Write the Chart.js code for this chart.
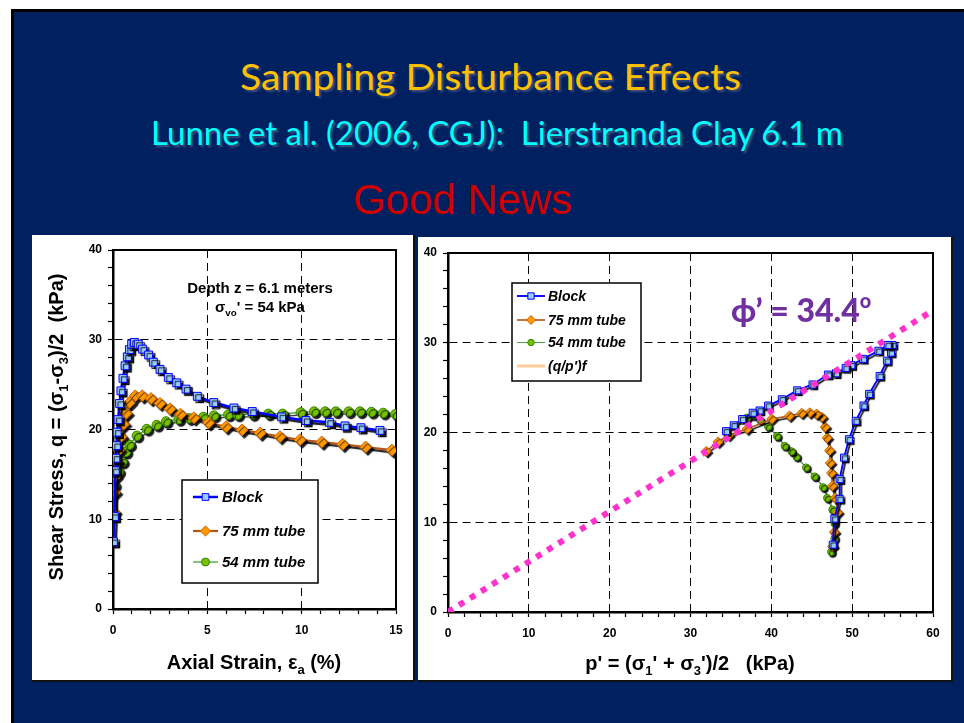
<!DOCTYPE html>
<html>
<head>
<meta charset="utf-8">
<script src="https://cdn.jsdelivr.net/npm/chart.js@4.4.1/dist/chart.umd.min.js"></script>
<style>
  html, body { margin: 0; padding: 0; background: #fff; }
  body { width: 964px; height: 723px; position: relative; overflow: hidden; }
  #slide { position: absolute; left: 11px; top: 9px; width: 1000px; height: 800px;
           box-sizing: border-box; background: #002060; border: 3px solid #000; }
  .ttl { position: absolute; white-space: nowrap; transform-origin: 0 0; line-height: 1; }
  #t1 { left: 240px; top: 54px; font: 36px Lato, "Open Sans", sans-serif; color: #FFC000;
        text-shadow: 2px 2px 2px rgba(110, 120, 150, 0.55); }
  #t2 { left: 151px; top: 113px; font: 32px Lato, "Open Sans", sans-serif; color: #00FFFF;
        text-shadow: 2px 2px 2px rgba(110, 120, 150, 0.6); }
  #t3 { left: 353px; top: 176px; font: 42px "Liberation Sans", Arial, sans-serif; color: #CC0000; }
  .panel { position: absolute; background: #fff; border-right: 2px solid #111; border-bottom: 2px solid #111; }
  #p1 { left: 32px; top: 235px; width: 381px; height: 445px; }
  #p2 { left: 418px; top: 237px; width: 533px; height: 443px; }
</style>
</head>
<body>
<div id="slide"></div>
<div class="ttl" id="t1" data-w="501">Sampling Disturbance Effects</div>
<div class="ttl" id="t2" data-w="692">Lunne et al. (2006, CGJ):&nbsp; Lierstranda Clay 6.1 m</div>
<div class="ttl" id="t3" data-w="219">Good News</div>
<div class="panel" id="p1"><canvas id="c1"></canvas></div>
<div class="panel" id="p2"><canvas id="c2"></canvas></div>
<script>
// ---- stress-strain curves: axial strain (%) vs q (kPa)
const blockStrain = [0.02, 0.07, 0.12, 0.15, 0.18, 0.22, 0.27, 0.35, 0.42, 0.53, 0.64, 0.76, 0.87, 0.99, 1.13, 1.34, 1.57, 1.89, 2.14, 2.49, 2.93, 3.38, 3.87, 4.47, 5.34, 6.41, 7.38, 8.94, 10.23, 11.47, 12.3, 13.14, 14.15];
const blockQ      = [7.5, 10.3, 15.4, 16.8, 18.2, 19.7, 21.1, 22.9, 24.3, 25.7, 27.1, 28.1, 28.9, 29.5, 29.7, 29.5, 28.95, 28.3, 27.5, 26.7, 25.8, 25.2, 24.5, 23.7, 23.0, 22.4, 22.0, 21.4, 21.0, 20.8, 20.4, 20.2, 19.9];

const tube75Strain = [0.05, 0.08, 0.12, 0.21, 0.3, 0.42, 0.56, 0.7, 0.88, 1.18, 1.55, 2.01, 2.49, 3.02, 3.58, 4.29, 5.07, 5.99, 6.84, 7.8, 8.85, 9.91, 11.06, 12.17, 13.39, 14.78];
const tube75Q      = [10.8, 13.0, 14.75, 16.4, 17.7, 19.2, 20.6, 21.8, 23.0, 23.75, 23.75, 23.45, 22.9, 22.3, 21.7, 21.3, 20.75, 20.3, 19.95, 19.6, 19.2, 18.85, 18.6, 18.35, 18.05, 17.7];

const tube54Strain = [0.02, 0.07, 0.29, 0.49, 0.68, 0.87, 1.26, 1.79, 2.32, 2.81, 3.48, 4.05, 4.79, 5.35, 6.11, 6.6, 7.4, 8.23, 8.99, 9.95, 10.66, 11.25, 11.81, 12.49, 13.09, 13.7, 14.32, 14.97];
const tube54Q      = [10.7, 13.8, 15.3, 16.4, 17.5, 18.3, 19.3, 20.05, 20.5, 20.9, 21.15, 21.25, 21.4, 21.55, 21.65, 21.65, 21.7, 21.75, 21.75, 21.9, 22.0, 22.0, 22.0, 22.0, 22.0, 21.95, 21.85, 21.7];

// ---- stress paths: p' (kPa) vs q (kPa)
const blockP  = [47.6, 47.8, 48.45, 48.45, 49.0, 49.6, 50.45, 51.4, 52.1, 53.4, 54.3, 54.8, 55.0, 54.4, 53.25, 51.35, 49.9, 49.2, 48.0, 47.0, 45.1, 43.2, 41.3, 39.6, 38.55, 37.7, 36.4, 35.35, 34.4];
const blockPQ = [7.5, 10.4, 12.6, 14.8, 17.2, 19.25, 21.3, 23.0, 24.3, 26.3, 28.0, 28.9, 29.75, 29.75, 29.1, 28.2, 27.5, 27.2, 26.6, 26.45, 25.35, 24.7, 23.7, 23.0, 22.45, 22.2, 21.5, 20.8, 20.15];

const tube75P  = [47.6, 47.8, 48.2, 47.9, 47.55, 47.45, 47.3, 47.2, 46.9, 46.65, 46.25, 45.6, 44.75, 43.75, 42.25, 40.05, 37.0, 34.7, 33.4, 31.95];
const tube75PQ = [7.3, 8.9, 11.1, 12.7, 14.05, 15.5, 16.6, 18.0, 19.4, 20.6, 21.7, 22.05, 22.2, 22.15, 21.85, 21.5, 20.4, 19.7, 18.95, 17.9];

const tube54P  = [47.4, 47.8, 47.8, 47.55, 46.9, 46.4, 45.35, 44.3, 43.1, 42.5, 41.65, 40.7, 39.6, 38.6, 37.7, 37.0];
const tube54PQ = [6.7, 8.2, 9.9, 11.4, 12.7, 13.9, 15.1, 16.1, 17.3, 17.9, 18.5, 19.6, 20.66, 21.4, 21.9, 21.66];

// failure envelope (q/p')f, phi' = 34.4 deg
const envelopeP = [0, 60];
const envelopeQ = [0, 33.6];

const FONT = '"Liberation Sans", Arial, sans-serif';
Chart.defaults.font.family = FONT;
Chart.defaults.color = '#000';

// squeeze the slide titles to their box widths
document.querySelectorAll('.ttl').forEach(el => {
  el.style.transform = 'scaleX(' + (el.dataset.w / el.getBoundingClientRect().width) + ')';
});

const pts = (xs, ys) => xs.map((x, i) => ({ x, y: ys[i] }));

const LOOK = {
  block:  { line: '#0000FF', lw: 2.5, fill: '#99CCFF', edge: '#0000FF', shape: 'rect',    r: 5.6, rs: 5 },
  tube75: { line: '#B4561A', lw: 2.2, fill: '#FF9900', edge: '#C86400', shape: 'rectRot', r: 6,   rs: 5 },
  tube54: { line: '#2E9E2E', lw: 1.2, fill: '#77C100', edge: '#338800', shape: 'circle',  r: 4.7, rs: 3.6 }
};

function series(label, data, kind, small) {
  const s = LOOK[kind];
  const r = small ? s.rs : s.r;
  return {
    label, data, showLine: true, tension: 0,
    borderColor: s.line, borderWidth: s.lw * (small ? 0.75 : 1),
    pointStyle: s.shape, pointRadius: r, pointHoverRadius: r,
    pointBackgroundColor: s.fill, pointBorderColor: s.edge, pointBorderWidth: 1,
    shadow: small ? 1.8 : 2.4
  };
}

function scaleOpts(max, step, major, fit, pad) {
  return {
    type: 'linear', min: 0, max,
    ticks: { stepSize: step, autoSkip: false, maxRotation: 0, padding: pad,
             font: { size: 12, weight: 'bold' }, color: '#000',
             callback: v => (v % major === 0 ? v : '') },
    grid: { color: c => (c.tick && c.tick.value % major === 0 && c.tick.value > 0 && c.tick.value < max) ? '#000' : 'rgba(0,0,0,0)',
            lineWidth: 1, tickLength: 5, tickColor: '#000', tickWidth: 1.2 },
    border: { color: '#000', width: 2.5, dash: [8, 5] },
    afterFit: fit
  };
}

function marker(ctx, shape, x, y, r, fill, edge) {
  ctx.beginPath();
  if (shape === 'rect') {
    const h = r * Math.SQRT1_2;
    ctx.rect(x - h, y - h, 2 * h, 2 * h);
  } else if (shape === 'rectRot') {
    ctx.moveTo(x - r, y); ctx.lineTo(x, y - r); ctx.lineTo(x + r, y); ctx.lineTo(x, y + r); ctx.closePath();
  } else {
    ctx.arc(x, y, r, 0, Math.PI * 2);
  }
  ctx.fillStyle = fill; ctx.fill();
  ctx.lineWidth = 1; ctx.strokeStyle = edge; ctx.stroke();
}

// text with sub/superscript runs: parts are strings or [text, 'sub'|'sup']
function rich(ctx, parts, x, y, size, o) {
  const fam = o.family || FONT, st = o.style || 'bold';
  let w = 0;
  const runs = parts.map(p => {
    const [t, kind] = Array.isArray(p) ? p : [p, null];
    const s = kind ? size * (o.subScale || 0.65) : size;
    ctx.font = st + ' ' + s + 'px ' + fam;
    const rw = ctx.measureText(t).width;
    w += rw;
    return { t, kind, s, rw };
  });
  ctx.save();
  ctx.translate(x, y);
  if (o.rotate) ctx.rotate(o.rotate);
  ctx.fillStyle = o.color || '#000';
  ctx.textBaseline = 'alphabetic';
  ctx.textAlign = 'left';
  let cx = o.align === 'left' ? 0 : -w / 2;
  const base = o.align === 'left' ? 0 : size * 0.36;
  runs.forEach(r => {
    ctx.font = st + ' ' + r.s + 'px ' + fam;
    const dy = r.kind === 'sub' ? size * 0.22 : r.kind === 'sup' ? -size * (o.supRise || 0.42) : 0;
    ctx.fillText(r.t, cx, base + dy);
    cx += r.rw;
  });
  ctx.restore();
}

// black drop shadow under the plotted series
const dropShadow = {
  id: 'dropShadow',
  beforeDatasetDraw(chart, args) {
    const ds = chart.data.datasets[args.index];
    if (!ds.shadow) return;
    const c = chart.ctx;
    c.save();
    c.shadowColor = 'rgba(0,0,0,0.9)';
    c.shadowOffsetX = ds.shadow;
    c.shadowOffsetY = ds.shadow;
    c.shadowBlur = 1;
  },
  afterDatasetDraw(chart, args) {
    if (chart.data.datasets[args.index].shadow) chart.ctx.restore();
  }
};

// plot frame, boxed legend, notes and axis titles
function decor(cfg) {
  return {
    id: 'decor',
    beforeDatasetsDraw(chart) {
      const { ctx, chartArea: a } = chart;
      ctx.save();
      ctx.lineWidth = 2;
      ctx.strokeStyle = '#000';
      ctx.strokeRect(a.left, a.top, a.right - a.left, a.bottom - a.top);
      ctx.restore();
    },
    afterDraw(chart) {
      const ctx = chart.ctx, L = cfg.legend;
      ctx.save();
      ctx.fillStyle = '#fff';
      ctx.fillRect(L.x, L.y, L.w, L.h);
      ctx.lineWidth = 1.5;
      ctx.strokeStyle = '#000';
      ctx.strokeRect(L.x, L.y, L.w, L.h);
      chart.data.datasets.forEach((ds, i) => {
        const y = L.y + L.rows[i];
        ctx.beginPath();
        ctx.moveTo(L.x1, y); ctx.lineTo(L.x2, y);
        ctx.lineWidth = ds.legendWidth || ds.borderWidth;
        ctx.strokeStyle = ds.legendColor || ds.borderColor;
        ctx.setLineDash([]);
        ctx.stroke();
        if (ds.pointRadius) {
          marker(ctx, ds.pointStyle, (L.x1 + L.x2) / 2, y, ds.pointRadius * L.mk, ds.pointBackgroundColor, ds.pointBorderColor);
        }
        ctx.font = 'italic bold ' + L.size + 'px ' + FONT;
        ctx.fillStyle = '#000';
        ctx.textBaseline = 'middle';
        ctx.fillText(ds.label, L.tx, y + 1);
      });
      ctx.restore();
      (cfg.notes || []).forEach(n => rich(ctx, n.parts, n.x, n.y, n.size, n));
    }
  };
}

// ---- left: stress-strain
const c1 = new Chart(document.getElementById('c1'), {
  type: 'scatter',
  data: {
    datasets: [
      series('Block', pts(blockStrain, blockQ), 'block'),
      series('75 mm tube', pts(tube75Strain, tube75Q), 'tube75'),
      series('54 mm tube', pts(tube54Strain, tube54Q), 'tube54')
    ]
  },
  options: {
    responsive: true,
    maintainAspectRatio: false,
    animation: false,
    layout: { padding: { top: 15, right: 17, left: 0, bottom: 0 } },
    scales: {
      x: scaleOpts(15, 1, 5, s => { s.height = 71; }, 9),
      y: scaleOpts(40, 2, 10, s => { s.width = 81; }, 6)
    },
    plugins: { legend: { display: false }, tooltip: { enabled: false } }
  },
  plugins: [dropShadow, decor({
    legend: { x: 150, y: 245, w: 136, h: 103, rows: [17, 51, 82], x1: 161, x2: 186, tx: 190, size: 15, mk: 0.85 },
    notes: [
      { parts: ['Depth z = 6.1 meters'], x: 228, y: 53, size: 15 },
      { parts: ['σ', ['vo', 'sub'], "' = 54 kPa"], x: 228, y: 72, size: 15 },
      { parts: ['Shear Stress, q = (σ', ['1', 'sub'], '-σ', ['3', 'sub'], ')/2  (kPa)'], x: 24, y: 192, size: 20, rotate: -Math.PI / 2 },
      { parts: ['Axial Strain, ε', ['a', 'sub'], ' (%)'], x: 222, y: 427, size: 20 }
    ]
  })]
});

// ---- right: effective stress paths
const envelope = {
  label: "(q/p')f", data: pts(envelopeP, envelopeQ), showLine: true,
  borderColor: '#FF33CC', borderWidth: 6, borderDash: [6, 7], borderCapStyle: 'butt',
  pointRadius: 0, pointHoverRadius: 0, order: -1,
  legendColor: '#FFCC99', legendWidth: 3
};

const c2 = new Chart(document.getElementById('c2'), {
  type: 'scatter',
  data: {
    datasets: [
      series('Block', pts(blockP, blockPQ), 'block', true),
      series('75 mm tube', pts(tube75P, tube75PQ), 'tube75', true),
      series('54 mm tube', pts(tube54P, tube54PQ), 'tube54', true),
      envelope
    ]
  },
  options: {
    responsive: true,
    maintainAspectRatio: false,
    animation: false,
    layout: { padding: { top: 16, right: 18, left: 0, bottom: 0 } },
    scales: {
      x: scaleOpts(60, 2, 10, s => { s.height = 68; }, 9),
      y: scaleOpts(40, 2, 10, s => { s.width = 30; }, 6)
    },
    plugins: { legend: { display: false }, tooltip: { enabled: false } }
  },
  plugins: [dropShadow, decor({
    legend: { x: 94, y: 46, w: 129, h: 98, rows: [13, 37, 59.5, 83], x1: 99, x2: 127, tx: 130, size: 14, mk: 0.9 },
    notes: [
      { parts: ["ϕ’ = 34.4", ['o', 'sup']], x: 313, y: 85, size: 32, align: 'left', color: '#7030A0',
        style: '900', family: 'Lato, "Open Sans", sans-serif', subScale: 0.62, supRise: 0.45 },
      { parts: ["p' = (σ", ['1', 'sub'], "' + σ", ['3', 'sub'], "')/2   (kPa)"], x: 272, y: 426, size: 20 }
    ]
  })]
});
</script>
</body>
</html>
